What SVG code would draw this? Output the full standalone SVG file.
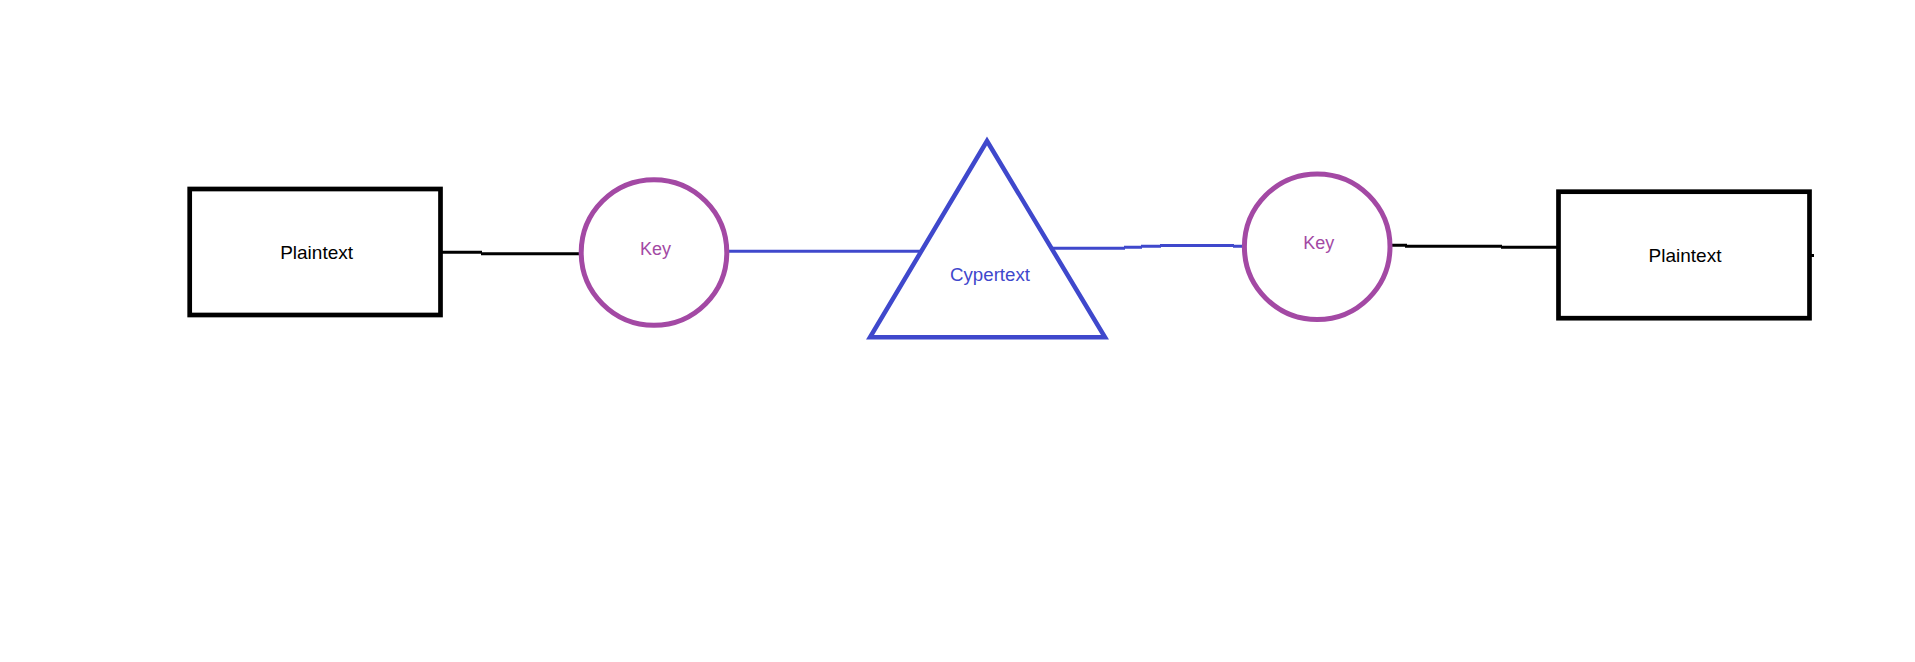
<svg xmlns="http://www.w3.org/2000/svg" width="1915" height="662" viewBox="0 0 1915 662">
<style>
.box{fill:#fff;stroke:#000;stroke-width:4.7}
.key{fill:#fff;stroke:#A349A4;stroke-width:5}
.tri{fill:#fff;stroke:#3F48CC;stroke-width:4.5;stroke-linejoin:miter}
.lk{fill:none;stroke:#000;stroke-width:3}
.lb{fill:none;stroke:#3F48CC;stroke-width:3}
text{font-family:"Liberation Sans",Arial,sans-serif;text-anchor:middle}
.tp{font-size:19px;fill:#000}
.tk{font-size:18px;fill:#A349A4}
.tc{font-size:18.7px;fill:#3F48CC}
</style>
<rect width="1915" height="662" fill="#fff"/>
<g id="connectors">
<path class="lk" d="M442,252.3 H482 M481,253.7 H579"/>
<path class="lb" d="M727,251.3 H921"/>
<path class="lb" d="M1052,248.3 H1125 M1124,247.3 H1142 M1141,246.3 H1161 M1160,245.5 H1234 M1233,246.3 H1243"/>
<path class="lk" d="M1391,245.3 H1407 M1405,246.3 H1502 M1501,247.3 H1557"/>
<path class="lk" d="M1811,255.5 H1814"/>
</g>
<g id="plaintext-left">
<rect class="box" x="189.7" y="189" width="250.8" height="126"/>
<text class="tp" x="316.6" y="259.3">Plaintext</text>
</g>
<g id="key-left">
<circle class="key" cx="654" cy="252.5" r="72.8"/>
<text class="tk" x="655.5" y="255">Key</text>
</g>
<g id="cypertext">
<polygon class="tri" points="987,141 870,337.3 1105,337.3"/>
<text class="tc" x="990" y="280.7">Cypertext</text>
</g>
<g id="key-right">
<circle class="key" cx="1317.2" cy="246.7" r="72.8"/>
<text class="tk" x="1318.7" y="249.3">Key</text>
</g>
<g id="plaintext-right">
<rect class="box" x="1558.5" y="191.7" width="251" height="126.5"/>
<text class="tp" x="1685" y="261.7">Plaintext</text>
</g>
</svg>
